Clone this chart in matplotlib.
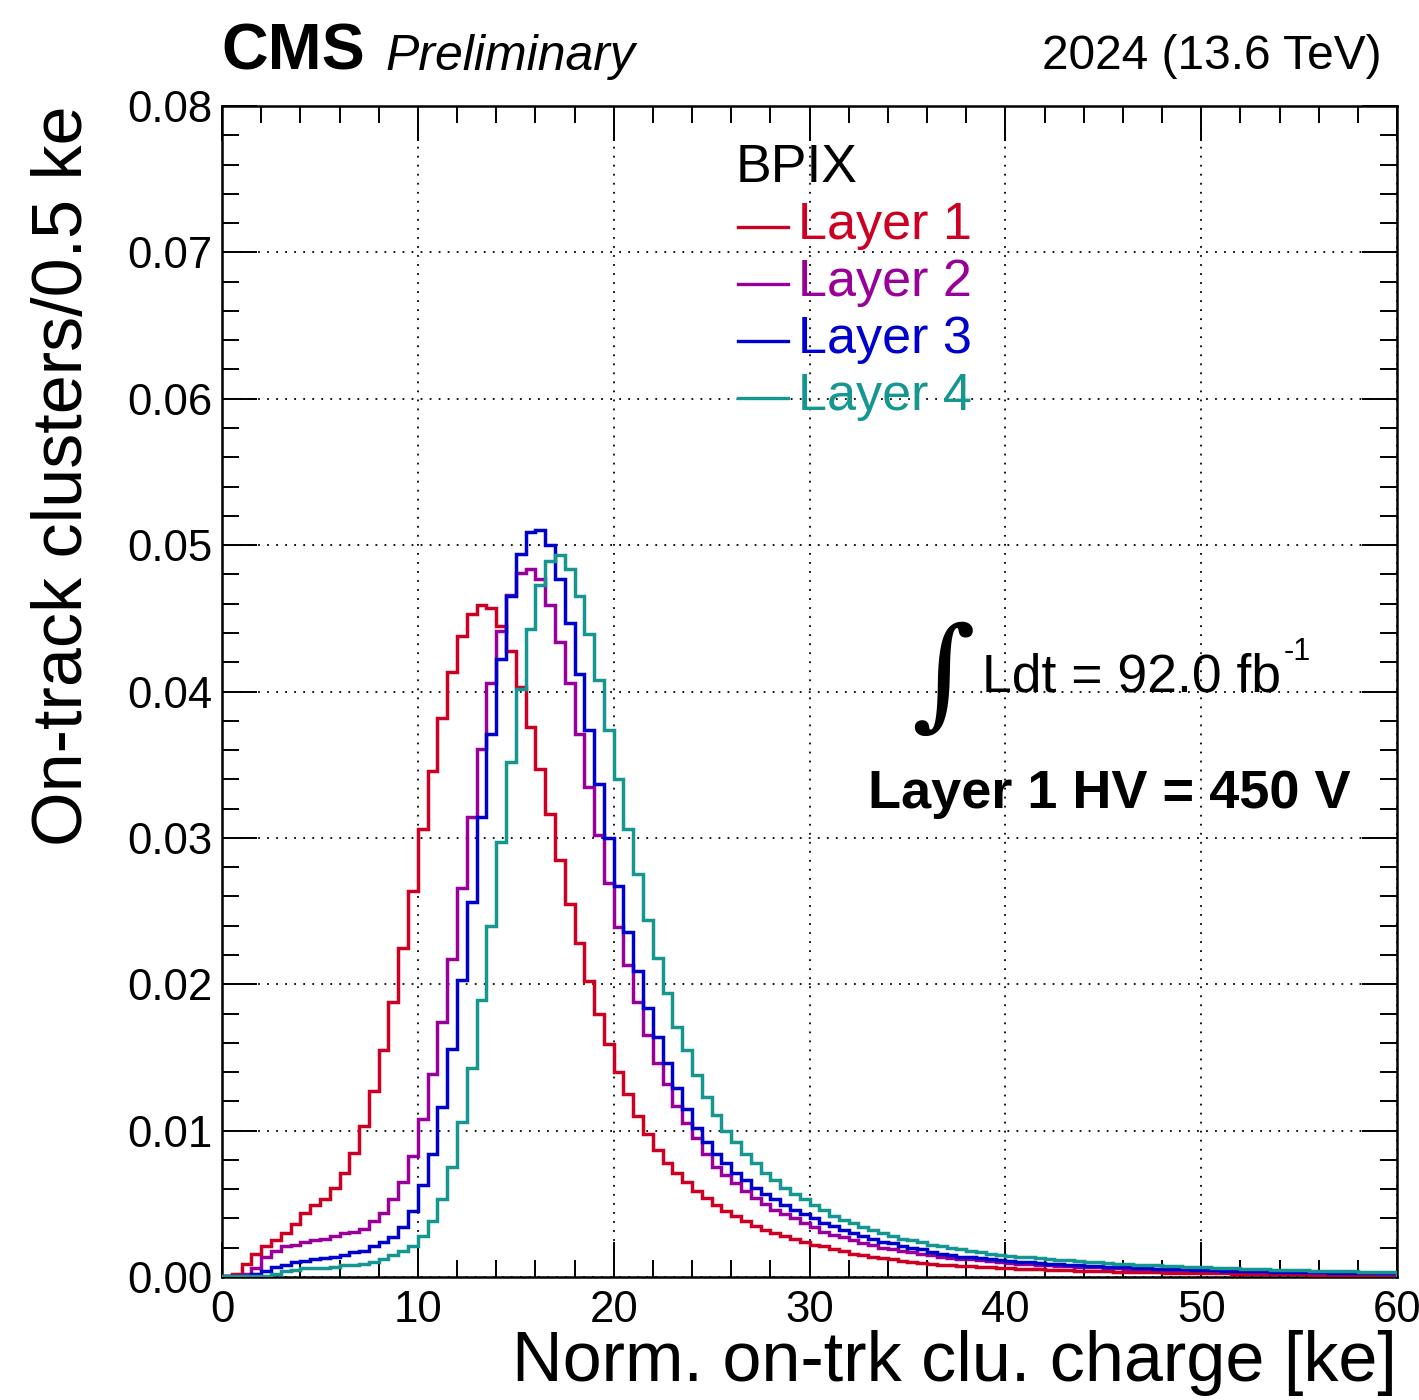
#!/usr/bin/env python3
"""Norm. on-track cluster charge, BPIX layers 1-4 (CMS Preliminary 2024)."""
import matplotlib

matplotlib.use("Agg")
import matplotlib.pyplot as plt
import numpy as np
from matplotlib.lines import Line2D
from matplotlib.ticker import FormatStrFormatter, MultipleLocator

plt.rcParams["font.family"] = ["Liberation Sans", "DejaVu Sans"]

W, H = 1419, 1400
BIN_WIDTH = 0.5  # ke

LAYER_NAMES = ["Layer 1", "Layer 2", "Layer 3", "Layer 4"]
LAYER_COLORS = ["#cc0022", "#990099", "#0000cc", "#169690"]

# fraction of clusters per 0.5 ke bin, 0-60 ke (120 bins)
LAYER1 = [
    0.0001, 0.0002, 0.0009, 0.0016, 0.0021, 0.0025, 0.0030, 0.0036, 0.0044, 0.0049,
    0.0053, 0.0061, 0.0071, 0.0085, 0.0103, 0.0127, 0.0155, 0.0188, 0.0225, 0.0264,
    0.0306, 0.0346, 0.0382, 0.0413, 0.0438, 0.0453, 0.0459, 0.0457, 0.0445, 0.0428,
    0.0403, 0.0376, 0.0347, 0.0316, 0.0285, 0.0255, 0.0228, 0.0202, 0.0180, 0.0159,
    0.0140, 0.0125, 0.0110, 0.0098, 0.0087, 0.0078, 0.0071, 0.0065, 0.0059, 0.0054,
    0.0049, 0.0045, 0.0042, 0.0038, 0.0035, 0.0032, 0.0030, 0.0028, 0.0026, 0.0024,
    0.0022, 0.0021, 0.0019, 0.0018, 0.0016, 0.0015, 0.0014, 0.0013, 0.0012, 0.0011,
    0.00102, 0.00096, 0.0009, 0.00085, 0.0008, 0.00077, 0.00073, 0.0007, 0.00067, 0.00064,
    0.0006, 0.00058, 0.00055, 0.00053, 0.0005, 0.00048, 0.00046, 0.00044, 0.00042, 0.0004,
    0.00038, 0.00037, 0.00035, 0.00034, 0.00032, 0.00031, 0.0003, 0.00029, 0.00028, 0.00027,
    0.00026, 0.00025, 0.00024, 0.00023, 0.00022, 0.00021, 0.0002, 0.0002, 0.00019, 0.00018,
    0.00018, 0.00017, 0.00016, 0.00016, 0.00015, 0.00015, 0.00014, 0.00014, 0.00013, 0.00013,
]
LAYER2 = [
    0.0001, 0.0001, 0.0002, 0.0006, 0.0014, 0.0018, 0.0021, 0.0022, 0.0024, 0.0025,
    0.0026, 0.0028, 0.0030, 0.0031, 0.0033, 0.0038, 0.0044, 0.0053, 0.0065, 0.0083,
    0.0108, 0.0139, 0.0174, 0.0217, 0.0266, 0.0314, 0.0361, 0.0406, 0.0441, 0.0466,
    0.0481, 0.0484, 0.0477, 0.0459, 0.0434, 0.0406, 0.0371, 0.0335, 0.0302, 0.0269,
    0.0239, 0.0213, 0.0188, 0.0165, 0.0146, 0.0132, 0.0117, 0.0105, 0.0095, 0.0084,
    0.0075, 0.0070, 0.0064, 0.0059, 0.0054, 0.0050, 0.0046, 0.0043, 0.0040, 0.0037,
    0.0034, 0.0031, 0.0029, 0.0027, 0.0025, 0.0023, 0.0022, 0.0020, 0.0019, 0.0018,
    0.0017, 0.0016, 0.0015, 0.0014, 0.0013, 0.00125, 0.0012, 0.00114, 0.00108, 0.00102,
    0.00097, 0.00092, 0.00088, 0.00084, 0.0008, 0.00077, 0.00074, 0.00071, 0.00068, 0.00065,
    0.00062, 0.0006, 0.00058, 0.00056, 0.00054, 0.00052, 0.0005, 0.00048, 0.00047, 0.00046,
    0.00045, 0.00043, 0.00041, 0.0004, 0.00038, 0.00037, 0.00036, 0.00034, 0.00033, 0.00032,
    0.00031, 0.0003, 0.00029, 0.00028, 0.00027, 0.00026, 0.00025, 0.00024, 0.00023, 0.00022,
]
LAYER3 = [
    0.0001, 0.0001, 0.0001, 0.0002, 0.0004, 0.0007, 0.0008, 0.0010, 0.0011, 0.0012,
    0.0013, 0.0014, 0.0015, 0.0017, 0.0018, 0.0021, 0.0024, 0.0027, 0.0034, 0.0045,
    0.0063, 0.0084, 0.0116, 0.0156, 0.0203, 0.0256, 0.0314, 0.0371, 0.0422, 0.0465,
    0.0494, 0.0509, 0.0510, 0.0500, 0.0477, 0.0447, 0.0412, 0.0374, 0.0337, 0.0300,
    0.0267, 0.0236, 0.0209, 0.0184, 0.0164, 0.0146, 0.0129, 0.0115, 0.0102, 0.0092,
    0.0084, 0.0078, 0.0071, 0.0066, 0.0061, 0.0057, 0.0053, 0.0049, 0.0046, 0.0043,
    0.0040, 0.0037, 0.0035, 0.0032, 0.0030, 0.0028, 0.0026, 0.0024, 0.0023, 0.0021,
    0.0020, 0.0019, 0.0017, 0.0016, 0.0015, 0.0014, 0.00135, 0.0013, 0.0012, 0.00115,
    0.0011, 0.00105, 0.001, 0.00096, 0.00092, 0.00088, 0.00084, 0.0008, 0.00077, 0.00074,
    0.00071, 0.00068, 0.00065, 0.00063, 0.0006, 0.00058, 0.00056, 0.00054, 0.00052, 0.0005,
    0.00048, 0.00046, 0.00044, 0.00043, 0.00041, 0.0004, 0.00038, 0.00037, 0.00036, 0.00034,
    0.00033, 0.00032, 0.00031, 0.0003, 0.00029, 0.00028, 0.00027, 0.00026, 0.00025, 0.00024,
]
LAYER4 = [
    0.0001, 0.0001, 0.0001, 0.0001, 0.0001, 0.0002, 0.0004, 0.0005, 0.0006, 0.0006,
    0.0006, 0.0007, 0.0008, 0.0008, 0.0009, 0.0010, 0.0012, 0.0015, 0.0018, 0.0021,
    0.0028, 0.0038, 0.0053, 0.0075, 0.0106, 0.0143, 0.0189, 0.0240, 0.0297, 0.0352,
    0.0402, 0.0443, 0.0473, 0.0489, 0.0493, 0.0484, 0.0465, 0.0439, 0.0408, 0.0374,
    0.0340, 0.0306, 0.0275, 0.0244, 0.0218, 0.0194, 0.0171, 0.0155, 0.0138, 0.0123,
    0.0111, 0.0100, 0.0092, 0.0084, 0.0078, 0.0071, 0.0066, 0.0061, 0.0057, 0.0053,
    0.0049, 0.0046, 0.0042, 0.0039, 0.0037, 0.0034, 0.0032, 0.0030, 0.0028, 0.0026,
    0.0025, 0.0024, 0.0022, 0.0021, 0.0020, 0.0019, 0.0018, 0.0017, 0.0016, 0.0015,
    0.00145, 0.0014, 0.00134, 0.00128, 0.00123, 0.00118, 0.00113, 0.00108, 0.00104, 0.001,
    0.00096, 0.00092, 0.00088, 0.00085, 0.00082, 0.00079, 0.00076, 0.00073, 0.0007, 0.00068,
    0.00066, 0.00063, 0.00061, 0.00059, 0.00057, 0.00055, 0.00053, 0.00051, 0.00049, 0.00047,
    0.00046, 0.00044, 0.00043, 0.00041, 0.0004, 0.00038, 0.00037, 0.00036, 0.00035, 0.00034,
]

X_MAX = 60
Y_MAX = 0.08


def fx(px):
    return px / W


def fy(py):
    return 1 - py / H


def main():
    fig = plt.figure(figsize=(W / 100, H / 100), dpi=100)
    ax = fig.add_axes([fx(222), fy(1277), fx(1397) - fx(222), fy(106) - fy(1277)])

    for vals, color in zip([LAYER1, LAYER2, LAYER3, LAYER4], LAYER_COLORS):
        edges = np.arange(len(vals) + 1) * BIN_WIDTH
        ax.stairs(vals, edges, color=color, linewidth=2.5, zorder=3)

    ax.set_xlim(0, X_MAX)
    ax.set_ylim(0, Y_MAX)
    ax.xaxis.set_major_locator(MultipleLocator(10))
    ax.xaxis.set_minor_locator(MultipleLocator(2))
    ax.yaxis.set_major_locator(MultipleLocator(0.01))
    ax.yaxis.set_minor_locator(MultipleLocator(0.002))
    ax.yaxis.set_major_formatter(FormatStrFormatter("%.2f"))
    ax.tick_params(which="both", direction="in", top=True, right=True, width=1.4)
    ax.tick_params(which="major", length=25, labelsize=31.5)
    ax.tick_params(axis="y", which="major", pad=7)
    ax.tick_params(axis="x", which="major", pad=9)
    ax.tick_params(which="minor", length=12.5)
    for sp in ax.spines.values():
        sp.set_linewidth(1.8)
    ax.grid(which="major", color="black", linestyle=(0, (1, 4)), linewidth=1.3)

    # axis titles
    fig.text(fx(64), fy(105), "On-track clusters/0.5 ke", rotation=90,
             ha="center", va="top", fontsize=50.5)
    fig.text(fx(1397), fy(1381), "Norm. on-trk clu. charge [ke]",
             ha="right", va="baseline", fontsize=50.5)

    # header
    fig.text(fx(221), fy(70), "CMS", fontsize=46.5, fontweight="bold", va="baseline")
    fig.text(fx(385), fy(70), "Preliminary", fontsize=36, fontstyle="italic", va="baseline")
    fig.text(fx(1382), fy(69), "2024 (13.6 TeV)", fontsize=34.5, ha="right", va="baseline")

    # legend
    fig.text(fx(736), fy(182), "BPIX", fontsize=38.5, va="baseline")
    base = [239, 296, 353, 410]
    for name, color, b in zip(LAYER_NAMES, LAYER_COLORS, base):
        fig.text(fx(798), fy(b), name, fontsize=37.5, color=color, va="baseline")
        yl = fy(b - 12)
        fig.add_artist(Line2D([fx(738), fx(788)], [yl, yl], color=color,
                              linewidth=2.4, transform=fig.transFigure))

    # luminosity and HV
    fig.text(fx(943), fy(680), "\u222b", fontsize=88, family="DejaVu Serif",
             ha="center", va="center")
    lumi = fig.text(fx(982), fy(692), "Ldt = 92.0 fb", fontsize=38.5, va="baseline")
    fig.canvas.draw()
    bb = lumi.get_window_extent()
    fig.text(bb.x1 / W + fx(3), fy(660), "-1", fontsize=22, va="baseline")
    fig.text(fx(868), fy(808), "Layer 1 HV = 450 V", fontsize=39,
             fontweight="bold", va="baseline")

    fig.savefig("out.png", dpi=100)
    plt.close(fig)


if __name__ == "__main__":
    main()
